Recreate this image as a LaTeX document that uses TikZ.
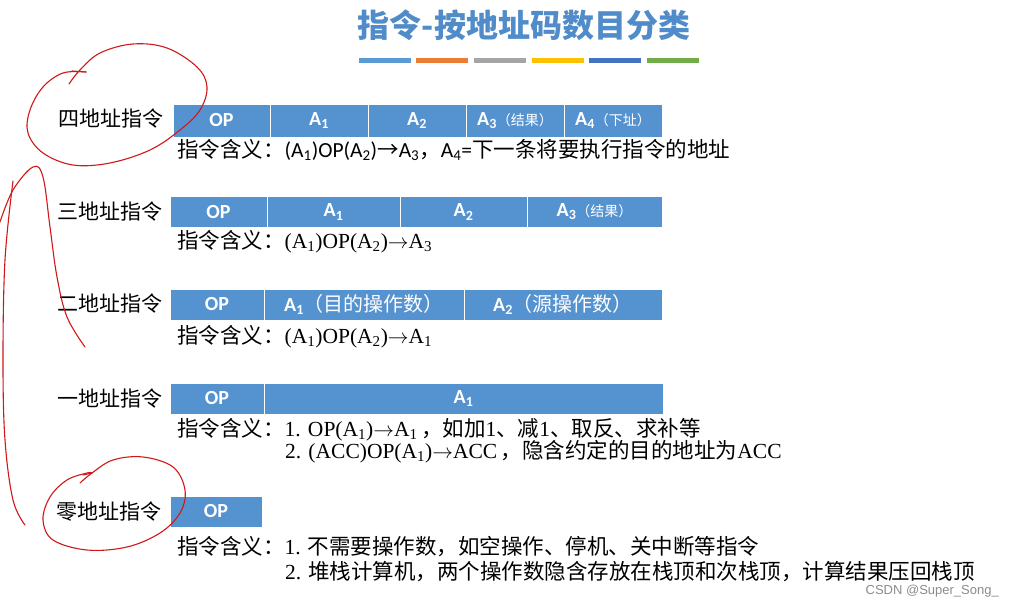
\documentclass[tikz,border=0pt]{standalone}
\usepackage{fontspec}
\setmainfont{Liberation Serif}
\newfontfamily\cjk{Noto Sans CJK SC}
\newfontfamily\calf{Carlito}
\newfontfamily\wmf{Liberation Sans}
\definecolor{barblue}{HTML}{5592D0}
\definecolor{titleblue}{HTML}{4F8CC9}
\definecolor{penred}{HTML}{D01818}
\definecolor{b1}{HTML}{5B9BD5}
\definecolor{b2}{HTML}{ED7D31}
\definecolor{b3}{HTML}{A5A5A5}
\definecolor{b4}{HTML}{FFC000}
\definecolor{b5}{HTML}{4472C4}
\definecolor{b6}{HTML}{70AD47}
\newcommand\zh[1]{{\cjk #1}}
\newcommand\smallzh[1]{{\cjk\mdseries\fontsize{14}{14}\selectfont #1}}
\newcommand\arr{\ensuremath{\rightarrow}}
\begin{document}
\begin{tikzpicture}[x=1pt,y=-1pt,
  cell/.style={rectangle, fill=barblue, draw=white, line width=0.8pt, text=white, inner sep=0pt, font=\calf\bfseries\fontsize{20}{20}\selectfont},
  lbl/.style={anchor=east, inner sep=0pt, font=\cjk\fontsize{21}{21}\selectfont, text=black},
  desc/.style={anchor=west, inner sep=0pt, font=\fontsize{21.5}{24}\selectfont, text=black},
  colbar/.style={rectangle, inner sep=0pt, minimum width=52, minimum height=5},
  redpen/.style={draw=penred, line width=1.1pt, line cap=round, line join=round}]
\useasboundingbox (0,0) rectangle (1014,609);
\fill[white] (0,0) rectangle (1014,609);
% title
\node[font=\cjk\bfseries\fontsize{32}{32}\selectfont, text=titleblue, inner sep=0pt] (title) at (524,25) {指令-按地址码数目分类};
\node[colbar, fill=b1] (c1) at (385,61) {};
\node[colbar, fill=b2] (c2) at (441.5,61) {};
\node[colbar, fill=b3] (c3) at (499.5,61) {};
\node[colbar, fill=b4] (c4) at (557.5,61) {};
\node[colbar, fill=b5] (c5) at (615,61) {};
\node[colbar, fill=b6] (c6) at (673,61) {};
% row 1
\node[lbl] (l1) at (164,119) {四地址指令};
\node[cell, minimum width=97, minimum height=33] (r1op) at (221.5,120.5) {OP};
\node[cell, minimum width=98, minimum height=33] (r1a1) at (319,120.5) {A\textsubscript{1}};
\node[cell, minimum width=98, minimum height=33] (r1a2) at (417,120.5) {A\textsubscript{2}};
\node[cell, minimum width=98, minimum height=33] (r1a3) at (515,120.5) {A\textsubscript{3}\smallzh{（结果）}};
\node[cell, minimum width=98, minimum height=33] (r1a4) at (613,120.5) {A\textsubscript{4}\smallzh{（下址）}};
\node[desc, font=\calf\fontsize{21.5}{24}\selectfont] (d1) at (177,150) {\zh{指令含义：}(A\textsubscript{1})OP(A\textsubscript{2})\zh{→}A\textsubscript{3}\zh{，}A\textsubscript{4}=\zh{下一条将要执行指令的地址}};
% row 2
\node[lbl] (l2) at (163,212) {三地址指令};
\node[cell, minimum width=97, minimum height=31] (r2op) at (218.5,212) {OP};
\node[cell, minimum width=133, minimum height=31] (r2a1) at (333.5,212) {A\textsubscript{1}};
\node[cell, minimum width=127, minimum height=31] (r2a2) at (463.5,212) {A\textsubscript{2}};
\node[cell, minimum width=135, minimum height=31] (r2a3) at (594.5,212) {A\textsubscript{3}\smallzh{（结果）}};
\node[desc] (d2) at (177,242) {\zh{指令含义：}(A\textsubscript{1})OP(A\textsubscript{2})\arr A\textsubscript{3}};
% row 3
\node[lbl] (l3) at (163,304) {二地址指令};
\node[cell, minimum width=94, minimum height=31] (r3op) at (217,304.5) {OP};
\node[cell, minimum width=200, minimum height=31] (r3a1) at (364,304.5) {A\textsubscript{1}{\cjk\mdseries（目的操作数）}};
\node[cell, minimum width=198, minimum height=31] (r3a2) at (563,304.5) {A\textsubscript{2}{\cjk\mdseries（源操作数）}};
\node[desc] (d3) at (177,337) {\zh{指令含义：}(A\textsubscript{1})OP(A\textsubscript{2})\arr A\textsubscript{1}};
% row 4
\node[lbl] (l4) at (163,399) {一地址指令};
\node[cell, minimum width=94, minimum height=31] (r4op) at (217,398.5) {OP};
\node[cell, minimum width=399, minimum height=31] (r4a1) at (463.5,398.5) {A\textsubscript{1}};
\node[desc] (d4a) at (177,430) {\zh{指令含义：}1. OP(A\textsubscript{1})\arr A\textsubscript{1}\,\zh{，如加}1\zh{、减}1\zh{、取反、求补等}};
\node[desc] (d4b) at (285,452) {2. (ACC)OP(A\textsubscript{1})\arr ACC\,\zh{，隐含约定的目的地址为}ACC};
% row 5
\node[lbl] (l5) at (162,512) {零地址指令};
\node[cell, minimum width=92, minimum height=31] (r5op) at (216,511.5) {OP};
\node[desc] (d5a) at (177,547) {\zh{指令含义：}1. \zh{不需要操作数，如空操作、停机、关中断等指令}};
\node[desc] (d5b) at (285,572) {2. \zh{堆栈计算机，两个操作数隐含存放在栈顶和次栈顶，计算结果压回栈顶}};
% watermark
\node[anchor=east, inner sep=0pt, font=\wmf\fontsize{13}{13}\selectfont, text=black!45] (wm) at (999,591) {CSDN @Super\_Song\_};
% red pen annotations
\draw[redpen] plot[smooth, tension=0.6] coordinates {(69,84) (80,70) (100,53) (133,44) (167,48) (197,67) (207,87) (200,110) (180,130) (150,150) (110,163) (73,165) (43,153) (28,133) (30,110) (43,87) (63,73) (86,72)};
\draw[redpen] (72,71) -- (86,72);
\draw[redpen] plot[smooth, tension=0.6] coordinates {(0,222) (13,190) (33,167) (43,177) (50,227) (57,277) (67,317) (85,347)};
\draw[redpen] plot[smooth, tension=0.6] coordinates {(13,181) (5,260) (3,360) (5,440) (13,500) (25,525)};
\draw[redpen] plot[smooth, tension=0.6] coordinates {(80,483) (92,473) (113,460) (143,457) (173,467) (185,490) (180,513) (160,533) (127,547) (87,550) (53,540) (43,520) (50,497) (67,480) (87,473) (92,473)};
\draw[redpen] (83,475) -- (92,473);
\end{tikzpicture}
\end{document}
